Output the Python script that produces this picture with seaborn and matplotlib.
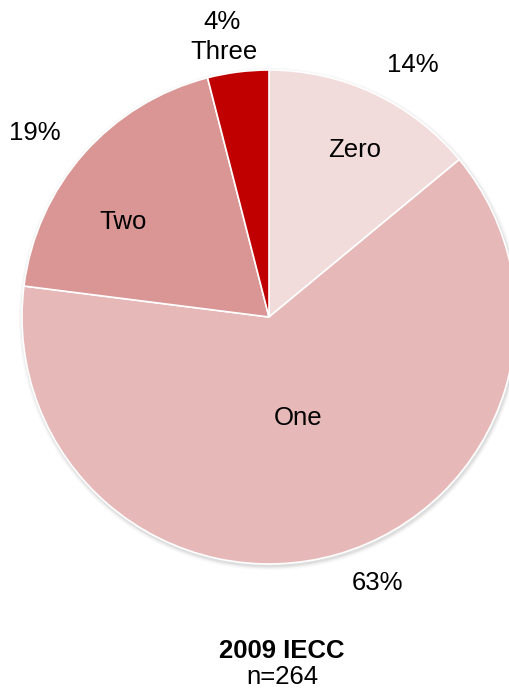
import numpy as np
import matplotlib
matplotlib.use("Agg")
import matplotlib.pyplot as plt
import seaborn as sns

# data
cats = ['Zero', 'One', 'Two', 'Three']
pcts = [14, 63, 19, 4]
colors = ['#F2DCDB', '#E6B9B8', '#D99694', '#C00000']
title = '2009 IECC'
subtitle = 'n=264'

sns.set_theme(style='white')
plt.rcParams['font.family'] = ['Liberation Sans', 'DejaVu Sans']

W, H = 510, 693
fig = plt.figure(figsize=(W / 100, H / 100), dpi=100)
ax = fig.add_axes([0, 0, 1, 1])

cx, cy, r = 269, H - 317, 247
# soft shadow behind the pie
for k, a in [(4, 0.05), (2.5, 0.08), (1.2, 0.12)]:
    ax.add_patch(plt.Circle((cx + 1, cy - 2), r + k, color='#777777', alpha=a, lw=0, zorder=0))

wedges, _ = ax.pie(pcts, colors=colors, startangle=90, counterclock=False,
                   center=(cx, cy), radius=r, frame=True,
                   wedgeprops=dict(edgecolor='white', linewidth=1.2))
ax.set_xlim(0, W)
ax.set_ylim(0, H)
ax.set_aspect('equal')
ax.axis('off')

fs = 18.5
# category labels inside slices (image pixel coords)
inner = {'Zero': (355, 150), 'One': (298, 418), 'Two': (123, 222)}
for name, (x, y) in inner.items():
    ax.text(x, H - y, name, ha='center', va='center', fontsize=fs, color='black')
# percentage labels outside
outer = [('14%', 413, 65), ('63%', 378, 583), ('19%', 35, 133), ('4%', 222, 22)]
for t, x, y in outer:
    ax.text(x, H - y, t, ha='center', va='center', fontsize=fs, color='black')
ax.text(224, H - 52, 'Three', ha='center', va='center', fontsize=fs, color='black')

ax.text(282, H - 651, title, ha='center', va='center', fontsize=fs, fontweight='bold', color='black')
ax.text(282, H - 677, subtitle, ha='center', va='center', fontsize=fs, color='black')

fig.savefig('out.png', dpi=100)
